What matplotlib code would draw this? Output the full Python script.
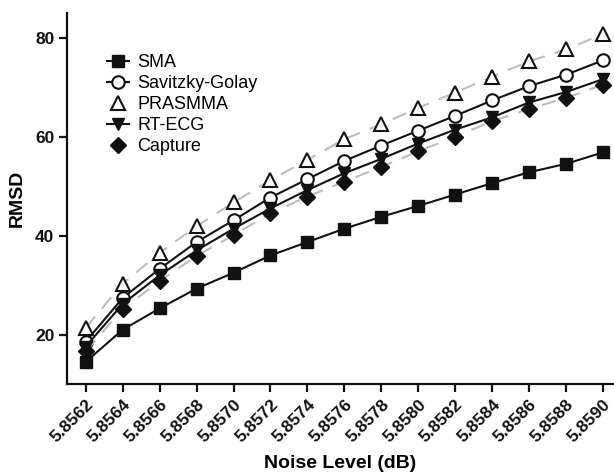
import matplotlib
matplotlib.use('Agg')
import matplotlib.pyplot as plt

plt.rcParams['font.family'] = ['Liberation Sans', 'DejaVu Sans']

noise_levels = ['5.8562', '5.8564', '5.8566', '5.8568', '5.8570', '5.8572', '5.8574', '5.8576',
                '5.8578', '5.8580', '5.8582', '5.8584', '5.8586', '5.8588', '5.8590']
sma = [14.5, 21.0, 25.3, 29.3, 32.5, 36.0, 38.7, 41.4, 43.8, 46.0, 48.3, 50.6, 52.8, 54.5, 56.8]
savgol = [18.6, 27.4, 33.3, 38.7, 43.1, 47.7, 51.4, 55.1, 58.2, 61.2, 64.2, 67.3, 70.2, 72.5, 75.4]
prasmma = [21.4, 30.3, 36.5, 41.9, 46.7, 51.2, 55.3, 59.5, 62.5, 65.8, 68.9, 72.1, 75.2, 77.6, 80.7]
rtecg = [17.6, 26.2, 32.0, 37.0, 41.4, 45.5, 49.2, 52.6, 55.5, 58.6, 61.4, 63.9, 66.9, 69.0, 71.6]
capture = [16.6, 25.2, 30.8, 35.9, 40.1, 44.5, 47.9, 50.9, 53.9, 57.0, 60.0, 63.1, 65.6, 67.8, 70.5]

x = list(range(len(noise_levels)))

fig = plt.figure(figsize=(6.14, 4.76), dpi=100)
ax = fig.add_axes([0.109, 0.193, 0.891, 0.78])

dash_grey = '#bdbdbd'
ax.plot(x, sma, '-s', color='#111111', lw=1.5, ms=9, label='SMA')
ax.plot(x, savgol, '-o', color='#111111', mfc='white', mew=1.5, lw=1.5, ms=9, label='Savitzky-Golay')
ax.plot(x, prasmma, '--', color=dash_grey, lw=1.5, dashes=(7, 5))
ax.plot(x, prasmma, '^', color='#111111', mfc='white', mew=1.5, ms=10, label='PRASMMA')
ax.plot(x, capture, '--', color=dash_grey, lw=1.5, dashes=(7, 5))
ax.plot(x, rtecg, '-v', color='#111111', lw=1.5, ms=9, label='RT-ECG')
ax.plot(x, capture, 'D', color='#111111', ms=8, label='Capture')

ax.set_xlim(-0.51, 14.3)
ax.set_ylim(10, 85)
ax.set_yticks([20, 40, 60, 80])
ax.set_xticks(x)
ax.set_xticklabels(noise_levels, rotation=45, ha='right', rotation_mode='anchor')

for s in ['top', 'right']:
    ax.spines[s].set_visible(False)
for s in ['left', 'bottom']:
    ax.spines[s].set_linewidth(1.6)
    ax.spines[s].set_color('#111111')
ax.tick_params(width=1.6, length=5.5, labelsize=12.5, colors='#111111')
for lbl in ax.get_xticklabels() + ax.get_yticklabels():
    lbl.set_fontweight('bold')

ax.set_xlabel('Noise Level (dB)', fontsize=14, fontweight='bold', labelpad=7)
ax.set_ylabel('RMSD', fontsize=14, fontweight='bold', labelpad=7)

ax.legend(loc='upper left', bbox_to_anchor=(0.174, 0.886), bbox_transform=fig.transFigure,
          frameon=False, fontsize=13, handlelength=1.2, handletextpad=0.5,
          labelspacing=0.22, borderpad=0, borderaxespad=0)

fig.savefig('out.png', dpi=100)
